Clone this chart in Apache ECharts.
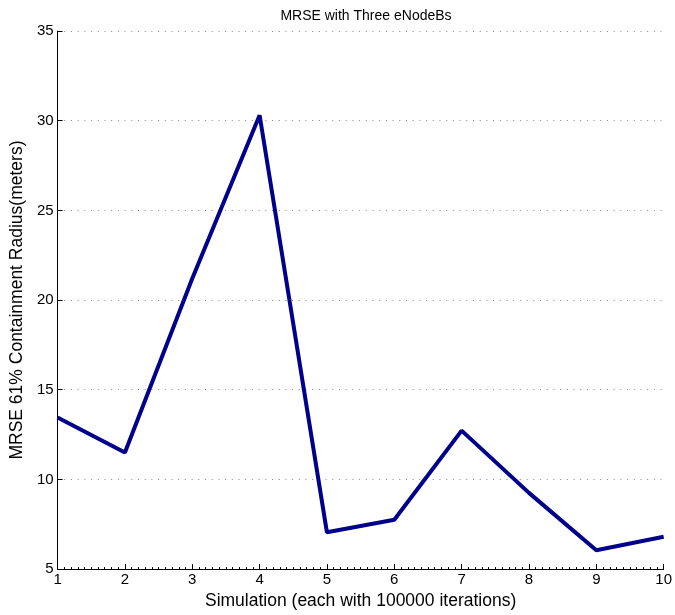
<!DOCTYPE html>
<html>
<head>
<meta charset="utf-8">
<script src="https://cdn.jsdelivr.net/npm/echarts@6/dist/echarts.min.js"></script>
<style>html,body{margin:0;padding:0;background:#fff;}#c{width:675px;height:615px;}</style>
</head>
<body>
<div id="c"></div>
<script>
var simulations = [1, 2, 3, 4, 5, 6, 7, 8, 9, 10];
var mrse = [13.45, 11.5, 21.2, 30.3, 7.05, 7.75, 12.72, 9.25, 6.05, 6.8];
var titleText = 'MRSE with Three eNodeBs';
var xName = 'Simulation (each with 100000 iterations)';
var yName = 'MRSE 61% Containment Radius(meters)';

var chart = echarts.init(document.getElementById('c'), null, {renderer: 'canvas'});
var font = 'Liberation Sans, Arial, sans-serif';
chart.setOption({
  animation: false,
  title: {
    text: titleText, left: 361, top: 4, textAlign: 'center',
    textStyle: {fontFamily: font, fontSize: 14, fontWeight: 'normal', color: '#000'}
  },
  grid: {left: 57, right: 9, top: 31, bottom: 44},
  xAxis: {
    type: 'value', min: 1, max: 10, interval: 1,
    name: xName, nameLocation: 'middle', nameGap: 22,
    nameTextStyle: {fontFamily: font, fontSize: 17.5, color: '#000'},
    axisLine: {lineStyle: {color: '#000', width: 1}},
    axisTick: {inside: true, length: 5, lineStyle: {color: '#000'}},
    minorTick: {show: true, splitNumber: 10, length: 2, lineStyle: {color: '#000'}},
    axisLabel: {fontFamily: font, fontSize: 15, color: '#000', margin: 3},
    splitLine: {show: false}
  },
  yAxis: {
    type: 'value', min: 5, max: 35, interval: 5,
    name: yName, nameLocation: 'middle', nameGap: 29,
    nameTextStyle: {fontFamily: font, fontSize: 17.5, color: '#000'},
    axisLine: {show: true, lineStyle: {color: '#000', width: 1}},
    axisTick: {show: true, inside: true, length: 5, lineStyle: {color: '#000'}},
    axisLabel: {fontFamily: font, fontSize: 15, color: '#000', margin: 4},
    splitLine: {show: true, lineStyle: {color: '#888', type: [1, 5.7], width: 1}}
  },
  series: [{
    type: 'line',
    data: simulations.map(function (s, i) { return [s, mrse[i]]; }),
    showSymbol: false,
    lineStyle: {color: '#00008b', width: 4},
    itemStyle: {color: '#00008b'}
  }]
});
</script>
</body>
</html>
